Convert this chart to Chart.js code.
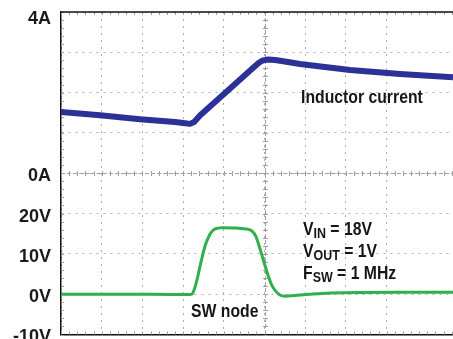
<!DOCTYPE html>
<html>
<head>
<meta charset="utf-8">
<script src="https://cdn.jsdelivr.net/npm/chart.js@4.4.1/dist/chart.umd.min.js"></script>
<style>
  html, body { margin: 0; padding: 0; background: #fff; }
</style>
</head>
<body>
<canvas id="scopeChart" width="453" height="339"></canvas>
<script>
// time is in scope divisions (one grid square = 1 div)
const ilTime = [0, 0.96, 1.94, 2.80, 3.05, 3.17, 3.27, 3.42, 4.77, 4.86, 4.96, 5.09, 5.26, 5.50, 5.87, 7.10, 8.33, 9.63];
const ilAmps = [1.52, 1.44, 1.34, 1.27, 1.24, 1.225, 1.27, 1.44, 2.66, 2.74, 2.80, 2.82, 2.81, 2.77, 2.71, 2.56, 2.46, 2.38];

const swTime = [0, 2.19, 3.17, 3.24, 3.34, 3.44, 3.54, 3.64, 3.73, 3.86, 3.96, 4.28, 4.59, 4.69, 4.79, 4.89,
                4.99, 5.09, 5.18, 5.28, 5.38, 5.50, 5.75, 6.12, 6.61, 8.33, 9.63];
const swVolts = [0, 0, -0.1, 0.3, 3.5, 8.0, 12.0, 14.5, 15.8, 16.4, 16.5, 16.4, 16.1, 15.7, 14.3, 11.2,
                 7.8, 4.6, 2.2, 0.7, -0.2, -0.5, -0.3, 0.0, 0.3, 0.5, 0.5];

// axis ranges (both scales share the same 8 divisions)
const voltRange = [-10, 70];
const ampRange = [-4, 4];
const voltLabels = [-10, 0, 10, 20];
const ampLabels = [0, 4];
const xMax = 9.63;

const BLUE = '#2b3196';
const GREEN = '#2fb04c';
const GRID = 'rgba(140,140,140,0.7)';
const FAMILY = '"Liberation Sans", Arial, sans-serif';
const SQUEEZE = 0.83; // the scope captions use a condensed face

// scope decorations: top border, minor ticks, center crosshair, trace notes
const scopeDeco = {
    id: 'scopeDeco',
    beforeDatasetsDraw(chart) {
        const { ctx, chartArea: a, scales } = chart;
        const x = scales.x, yA = scales.yA;
        ctx.save();
        // center crosshair
        const cx = Math.round(x.getPixelForValue(5)) + 0.5;
        const cy = Math.round(yA.getPixelForValue(0)) + 0.5;
        ctx.strokeStyle = '#a0a0a0';
        ctx.lineWidth = 1;
        ctx.setLineDash([4, 2]);
        ctx.beginPath();
        ctx.moveTo(a.left, cy); ctx.lineTo(a.right, cy);
        ctx.moveTo(cx, a.top); ctx.lineTo(cx, a.bottom);
        ctx.stroke();
        ctx.setLineDash([]);
        ctx.beginPath();
        for (let v = 0; v <= xMax; v += 0.2) {
            const px = Math.round(x.getPixelForValue(v)) + 0.5;
            ctx.moveTo(px, cy - 2.5); ctx.lineTo(px, cy + 2.5);
            ctx.moveTo(px, a.top); ctx.lineTo(px, a.top + 3);
            ctx.moveTo(px, a.bottom); ctx.lineTo(px, a.bottom - 3);
        }
        for (let v = ampRange[0]; v <= ampRange[1] + 1e-6; v += 0.2) {
            const py = Math.round(yA.getPixelForValue(v)) + 0.5;
            ctx.moveTo(cx - 2.5, py); ctx.lineTo(cx + 2.5, py);
            ctx.moveTo(a.left, py); ctx.lineTo(a.left + 3, py);
        }
        ctx.stroke();
        ctx.restore();
    },
    afterDraw(chart) {
        const { ctx, chartArea: a } = chart;
        ctx.save();
        ctx.strokeStyle = '#111';
        ctx.lineWidth = 1.5;
        ctx.beginPath();
        ctx.moveTo(a.left, a.top); ctx.lineTo(a.right, a.top);
        ctx.stroke();

        ctx.fillStyle = '#161616';
        ctx.textBaseline = 'alphabetic';
        const say = (txt, x0, y0, size) => {
            ctx.save();
            ctx.font = 'bold ' + size + 'px ' + FAMILY;
            ctx.translate(x0, y0);
            ctx.scale(SQUEEZE, 1);
            ctx.fillText(txt, 0, 0);
            const w = ctx.measureText(txt).width * SQUEEZE;
            ctx.restore();
            return w;
        };
        say('Inductor current', 301, 103, 19);
        say('SW node', 191, 317, 19);

        const line = (x0, y0, main, sub, rest) => {
            let xx = x0 + say(main, x0, y0, 19);
            xx += say(sub, xx, y0 + 2.5, 15);
            say(rest, xx, y0, 19);
        };
        line(303, 235, 'V', 'IN', ' = 18V');
        line(303, 257, 'V', 'OUT', ' = 1V');
        line(303, 279, 'F', 'SW', ' = 1 MHz');
        ctx.restore();
    }
};

const ctx = document.getElementById('scopeChart').getContext('2d');
new Chart(ctx, {
    type: 'line',
    data: {
        datasets: [{
            label: 'Inductor current',
            data: ilTime.map((t, i) => ({ x: t, y: ilAmps[i] })),
            yAxisID: 'yA',
            borderColor: BLUE,
            borderWidth: 6,
            borderJoinStyle: 'round',
            pointRadius: 0
        }, {
            label: 'SW node',
            data: swTime.map((t, i) => ({ x: t, y: swVolts[i] })),
            yAxisID: 'yV',
            borderColor: GREEN,
            borderWidth: 3,
            pointRadius: 0,
            cubicInterpolationMode: 'monotone'
        }]
    },
    options: {
        responsive: false,
        animation: false,
        layout: { padding: { top: 12, right: 0, bottom: 0, left: 0 } },
        plugins: { legend: { display: false }, tooltip: { enabled: false } },
        scales: {
            x: {
                type: 'linear',
                min: 0,
                max: xMax,
                afterBuildTicks: s => { s.ticks = s.ticks.filter(t => Number.isInteger(t.value)); },
                afterFit: s => { s.height = 4.5; s.paddingLeft = 0; s.paddingRight = 0; },
                ticks: { display: false, stepSize: 1 },
                grid: { color: GRID, drawTicks: false },
                border: { color: '#111', width: 1.5, dash: [2, 5] }
            },
            yV: {
                type: 'linear',
                position: 'left',
                min: voltRange[0],
                max: voltRange[1],
                afterFit: s => { s.width = 61; s.paddingTop = 0; s.paddingBottom = 0; },
                ticks: {
                    stepSize: 10,
                    padding: 10,
                    labelOffset: 3,
                    color: '#1a1a1a',
                    // the top label sits a little lower, below the frame
                    font: c => ({ family: FAMILY, size: 18, weight: 'bold',
                                  lineHeight: c.tick && c.tick.value === voltRange[1] ? '8px' : 1.2 }),
                    callback: v => {
                        if (voltLabels.includes(v)) return v + 'V';
                        // map to the current channel sharing the same divisions
                        const amp = ampRange[0] + (v - voltRange[0]) * (ampRange[1] - ampRange[0]) / (voltRange[1] - voltRange[0]);
                        if (!ampLabels.includes(amp)) return '';
                        return v === voltRange[1] ? ['', amp + 'A'] : amp + 'A';
                    }
                },
                grid: { color: GRID, drawTicks: false },
                border: { color: '#111', width: 1.5, dash: [2, 5] }
            },
            yA: {
                type: 'linear',
                display: false,
                min: ampRange[0],
                max: ampRange[1]
            }
        }
    },
    plugins: [scopeDeco]
});
</script>
</body>
</html>
